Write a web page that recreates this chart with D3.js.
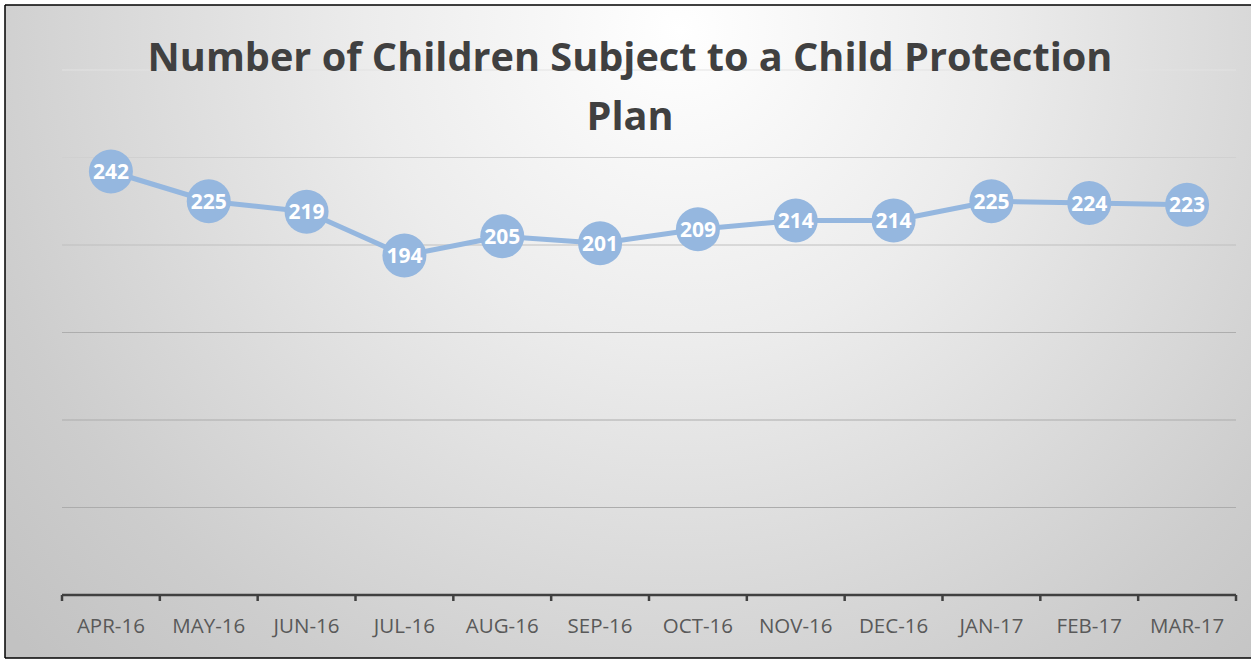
<!DOCTYPE html>
<html>
<head>
<meta charset="utf-8">
<script src="https://cdn.jsdelivr.net/npm/d3@7"></script>
<style>
  html, body { margin: 0; padding: 0; background: #ffffff; overflow: hidden; }
  svg { display: block; }
</style>
</head>
<body>
<svg id="chart" width="1251" height="660"></svg>
<script>
// Monthly counts of children subject to a child protection plan
const months = ["APR-16", "MAY-16", "JUN-16", "JUL-16", "AUG-16", "SEP-16",
                "OCT-16", "NOV-16", "DEC-16", "JAN-17", "FEB-17", "MAR-17"];
const children = [242, 225, 219, 194, 205, 201, 209, 214, 214, 225, 224, 223];
const gridValues = [50, 100, 150, 200, 250, 300];
const titleLines = ["Number of Children Subject to a Child Protection", "Plan"];

const W = 1251, H = 660;
const plot = { left: 62, right: 1236, top: 70, bottom: 595 };

const svg = d3.select("#chart");
const defs = svg.append("defs");

// soft radial background, brightest near the top centre
const bg = defs.append("radialGradient")
  .attr("id", "bgGrad")
  .attr("gradientUnits", "userSpaceOnUse")
  .attr("cx", 680).attr("cy", 30).attr("r", 900)
  .attr("fx", 680).attr("fy", 30);
bg.append("stop").attr("offset", 0).attr("stop-color", "#ffffff");
bg.append("stop").attr("offset", 0.35).attr("stop-color", "#ececec");
bg.append("stop").attr("offset", 0.8).attr("stop-color", "#cdcdcd");
bg.append("stop").attr("offset", 1).attr("stop-color", "#c2c2c2");

// gridline colour fades towards the top
const gg = defs.append("linearGradient")
  .attr("id", "gridGrad")
  .attr("gradientUnits", "userSpaceOnUse")
  .attr("x1", 0).attr("y1", 60).attr("x2", 0).attr("y2", 340);
gg.append("stop").attr("offset", 0).attr("stop-color", "#e4e4e4");
gg.append("stop").attr("offset", 1).attr("stop-color", "#acacac");

svg.append("rect")
  .attr("x", 5).attr("y", 5).attr("width", W - 5).attr("height", 653)
  .attr("fill", "url(#bgGrad)");

// frame: top, left and bottom edges
const frame = svg.append("g").attr("stroke", "#000").attr("stroke-width", 1.5);
frame.append("line").attr("x1", 5).attr("x2", W).attr("y1", 5).attr("y2", 5);
frame.append("line").attr("x1", 5).attr("x2", 5).attr("y1", 5).attr("y2", 658);
frame.append("line").attr("x1", 5).attr("x2", W).attr("y1", 658).attr("y2", 658);

const x = d3.scaleBand().domain(months).range([plot.left, plot.right]).padding(0);
const y = d3.scaleLinear().domain([0, 300]).range([plot.bottom, plot.top]);

// horizontal gridlines
svg.append("g")
  .selectAll("line")
  .data(gridValues)
  .join("line")
  .attr("x1", plot.left).attr("x2", plot.right)
  .attr("y1", d => y(d)).attr("y2", d => y(d))
  .attr("stroke", "url(#gridGrad)")
  .attr("stroke-width", 1.2);

// category axis with ticks between categories
const axisG = svg.append("g").attr("transform", `translate(0,${plot.bottom})`);
axisG.append("line")
  .attr("x1", plot.left).attr("x2", plot.right)
  .attr("y1", 0).attr("y2", 0)
  .attr("stroke", "#404040").attr("stroke-width", 2.5);
const boundaries = months.map(m => x(m)).concat([plot.right]);
axisG.selectAll("line.tick")
  .data(boundaries)
  .join("line")
  .attr("class", "tick")
  .attr("x1", d => d).attr("x2", d => d)
  .attr("y1", 0).attr("y2", 6)
  .attr("stroke", "#404040").attr("stroke-width", 2.5);
axisG.selectAll("text")
  .data(months)
  .join("text")
  .attr("x", d => x(d) + x.bandwidth() / 2)
  .attr("y", 38)
  .attr("text-anchor", "middle")
  .attr("font-family", "'Open Sans', sans-serif")
  .attr("font-size", 20.5)
  .attr("fill", "#595959")
  .text(d => d);

// series line
const cx = (d, i) => x(months[i]) + x.bandwidth() / 2;
const line = d3.line().x((d, i) => cx(d, i)).y(d => y(d));
svg.append("path")
  .datum(children)
  .attr("d", line)
  .attr("fill", "none")
  .attr("stroke", "#95b7df")
  .attr("stroke-width", 5)
  .attr("stroke-linejoin", "round");

// markers with value labels
const pts = svg.append("g").selectAll("g")
  .data(children)
  .join("g")
  .attr("transform", (d, i) => `translate(${cx(d, i)},${y(d)})`);
pts.append("circle")
  .attr("r", 22)
  .attr("fill", "#95b7df");
pts.append("text")
  .attr("text-anchor", "middle")
  .attr("y", 7.5)
  .attr("font-family", "'Open Sans', sans-serif")
  .attr("font-weight", 700)
  .attr("font-size", 21)
  .attr("fill", "#ffffff")
  .text(d => d);

// title, two centred lines
const title = svg.append("g")
  .attr("font-family", "'Open Sans', sans-serif")
  .attr("font-weight", 700)
  .attr("fill", "#404040")
  .attr("text-anchor", "middle");
const t1 = title.append("text").attr("x", 630).attr("y", 71).attr("font-size", 40).text(titleLines[0]);
const t2 = title.append("text").attr("x", 630).attr("y", 130).attr("font-size", 40).text(titleLines[1]);
// size the title so its first line spans the intended width
const w1 = t1.node().getComputedTextLength();
const fs = Math.min(44, 40 * 965 / w1);
t1.attr("font-size", fs);
t2.attr("font-size", fs);
</script>
</body>
</html>
